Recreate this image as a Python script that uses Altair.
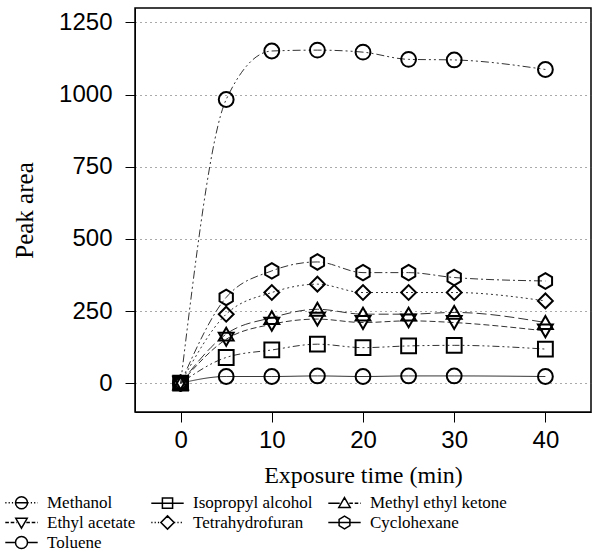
import altair as alt
import pandas as pd

# ---- data ----
times = [0, 5, 10, 15, 20, 25, 30, 40]
series_names = ["Methanol", "Isopropyl alcohol", "Methyl ethyl ketone",
                "Ethyl acetate", "Tetrahydrofuran", "Cyclohexane", "Toluene"]
methanol = [0, 983, 1151, 1154, 1147, 1122, 1120, 1087]
isopropyl = [0, 89, 115, 135, 123, 129, 131, 118]
mek = [0, 170, 227, 256, 239, 239, 245, 210]
ethyl_acetate = [0, 152, 204, 222, 210, 216, 210, 181]
thf = [0, 239, 314, 343, 314, 314, 314, 285]
cyclohexane = [0, 297, 389, 420, 383, 383, 366, 354]
toluene = [0, 23, 23, 25, 23, 25, 25, 23]
y_ticks = [0, 250, 500, 750, 1000, 1250]
x_ticks = [0, 10, 20, 30, 40]

values = [methanol, isopropyl, mek, ethyl_acetate, thf, cyclohexane, toluene]
rows = []
for name, vals in zip(series_names, values):
    for t, v in zip(times, vals):
        rows.append({"time": t, "area": v, "solvent": name})
df = pd.DataFrame(rows)

SERIF = "Liberation Serif"
SANS = "Liberation Sans"

# ---- styles ----
HEX = "M0,-1.05L0.9,-0.52L0.9,0.52L0,1.05L-0.9,0.52L-0.9,-0.52Z"
plot_shapes = ["circle", "square", "triangle-up", "triangle-down", "diamond", HEX, "circle"]
dashes = [[8, 3, 2, 3, 2, 3], [7, 3, 2, 3, 2, 3], [10, 4], [6, 3], [2, 3], [8, 3, 2, 3], [1, 0]]

CIRC = "M-1,0A1,1,0,1,1,1,0A1,1,0,1,1,-1,0Z"
SQ = "M-0.85,-0.85L0.85,-0.85L0.85,0.85L-0.85,0.85Z"
TUP = "M0,-0.95L0.95,0.7L-0.95,0.7Z"
TDN = "M0,0.95L0.95,-0.7L-0.95,-0.7Z"
DIA = "M0,-1.1L1.1,0L0,1.1L-1.1,0Z"


def stub(x0, x1, kind):
    # a horizontal stub from x0 to x1 drawn as solid / dotted / dashed
    lo, hi = min(x0, x1), max(x0, x1)
    if kind == "solid":
        return f"M{lo:.2f},0L{hi:.2f},0"
    seg, gap = (0.2, 0.35) if kind == "dot" else (0.6, 0.3)
    out, x = "", lo
    while x < hi:
        e = min(x + seg, hi)
        out += f"M{x:.2f},0L{e:.2f},0"
        x = e + gap
    return out


E = 2.7
legend_shapes = [
    CIRC + stub(-E, -1, "dot") + stub(-1, 1, "solid") + stub(1, E, "dot"),
    SQ + stub(-E, E, "solid"),
    TUP + stub(-E, -0.8, "solid") + stub(0.8, E, "dash"),
    TDN + stub(-E, -0.8, "dash") + stub(0.8, E, "dash"),
    DIA + stub(-E, -1.1, "dot") + stub(1.1, E, "dot"),
    HEX + stub(-E, E, "solid"),
    CIRC + stub(-E, -1, "solid") + stub(1, E, "solid"),
]

x_enc = alt.X("time:Q", scale=alt.Scale(domain=[-5, 45], nice=False, zero=False),
              axis=alt.Axis(values=x_ticks, title="Exposure time (min)", grid=False,
                            titlePadding=11, labelPadding=6, format="d",
                            titleFontSize=24))
y_enc = alt.Y("area:Q", scale=alt.Scale(domain=[-100, 1300], nice=False, zero=False),
              axis=alt.Axis(values=y_ticks, title="Peak area", grid=True, format="d",
                            gridDash=[1, 4], gridColor="#555555", titlePadding=21,
                            labelPadding=13, titleFontSize=25))

base = alt.Chart(df).encode(x=x_enc, y=y_enc)

lines = base.mark_line(color="#333333", strokeWidth=1, interpolate="monotone").encode(
    strokeDash=alt.StrokeDash("solvent:N", scale=alt.Scale(domain=series_names, range=dashes),
                              legend=None),
    detail="solvent:N",
)

points = base.mark_point(filled=False, color="black", strokeWidth=2, size=220, opacity=1).encode(
    shape=alt.Shape("solvent:N", scale=alt.Scale(domain=series_names, range=plot_shapes),
                    legend=None)
)

legend_layer = base.mark_point(filled=False, color="black", opacity=0, size=144).encode(
    shape=alt.Shape(
        "solvent:N",
        scale=alt.Scale(domain=series_names, range=legend_shapes),
        legend=alt.Legend(
            title=None, orient="none", legendX=-135, legendY=486, columns=3,
            direction="horizontal",
            columnPadding=10, rowPadding=0, padding=0,
            symbolSize=144, symbolStrokeWidth=1.5, symbolStrokeColor="black",
            symbolFillColor="transparent", symbolOpacity=1,
            symbolOffset=13, labelOffset=17,
            labelFont=SERIF, labelFontSize=17, labelColor="black",
            labelLimit=0,
        ),
    )
)

chart = (
    alt.layer(lines, points, legend_layer)
    .resolve_scale(shape="independent")
    .properties(width=456, height=404, autosize="none",
                padding={"left": 135, "top": 8, "right": 5, "bottom": 148})
    .configure_view(stroke="black", strokeWidth=1.5)
    .configure_axis(
        labelFont=SANS, labelFontSize=24, labelColor="black",
        titleFont=SERIF, titleFontWeight="normal",
        titleColor="black", tickColor="black", tickSize=10, domainColor="black",
    )
)

chart.save("out.html", embed_options={"renderer": "svg", "actions": False})
